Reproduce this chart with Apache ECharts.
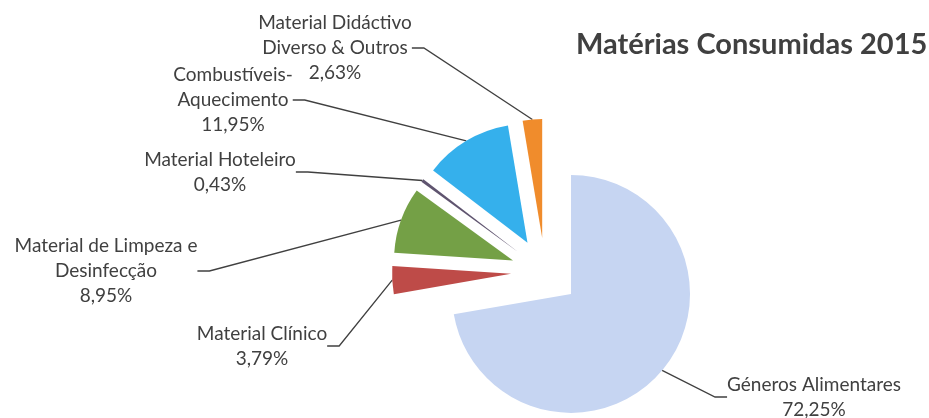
<!DOCTYPE html>
<html>
<head>
<meta charset="utf-8">
<script src="https://cdn.jsdelivr.net/npm/echarts@6/dist/echarts.min.js"></script>
<style>
  html, body { margin: 0; padding: 0; background: #ffffff; }
  #chart { width: 929px; height: 418px; }
</style>
</head>
<body>
<div id="chart"></div>
<script>
// Consumption shares for 2015, in percent (clockwise from 12 o'clock)
const categories = [
  'Géneros Alimentares',
  'Material Clínico',
  'Material de Limpeza e\nDesinfecção',
  'Material Hoteleiro',
  'Combustíveis-\nAquecimento',
  'Material Didáctivo\nDiverso & Outros'
];
const shares = [72.25, 3.79, 8.95, 0.43, 11.95, 2.63];
const sliceColors = ['#c6d5f2', '#be4b48', '#74a046', '#5f546f', '#35b0ec', '#f08c2c'];
// where each callout text block sits (centre of the block)
const labelSpots = [[814, 397], [262, 346], [106, 271], [220, 172], [233, 100], [335, 48]];

const PIE_CENTER = [545, 272];
const PIE_RADIUS = 119;
const EXPLODE = 34;   // every slice is pulled out by the same distance

const chart = echarts.init(document.getElementById('chart'), null, { renderer: 'canvas' });

const fmt = v => v.toFixed(2).replace('.', ',') + '%';
const total = shares.reduce((a, b) => a + b, 0);

// One pie layer per slice: all layers share the same angles, only one slice
// is painted in each, and that layer's centre is pushed out along the slice bisector.
let acc = 0;
const layers = shares.map((v, i) => {
  const mid = (acc + v / 2) / total * 2 * Math.PI;
  acc += v;
  const c = [PIE_CENTER[0] + EXPLODE * Math.sin(mid), PIE_CENTER[1] - EXPLODE * Math.cos(mid)];
  return {
    type: 'pie',
    center: c,
    radius: PIE_RADIUS,
    startAngle: 90,
    clockwise: true,
    silent: true,
    avoidLabelOverlap: false,
    minAngle: 0,
    label: {
      show: true,
      position: 'outside',
      fontFamily: 'Lato',
      fontSize: 19,
      lineHeight: 25,
      color: '#404040',
      align: 'center',
      formatter: p => p.name + '\n' + fmt(p.value)
    },
    labelLine: {
      show: true,
      length: 10,
      length2: 12,
      lineStyle: { color: '#404040', width: 1.3 }
    },
    labelLayout: p => (p.dataIndex === i ? {
      x: labelSpots[i][0],
      y: labelSpots[i][1],
      align: 'center',
      verticalAlign: 'middle'
    } : {}),
    data: categories.map((name, j) => (j === i ? {
      name: name,
      value: shares[j],
      itemStyle: { color: sliceColors[j], borderWidth: 0 }
    } : {
      name: name,
      value: shares[j],
      itemStyle: { color: 'rgba(0,0,0,0)', borderWidth: 0 },
      label: { show: false },
      labelLine: { show: false }
    }))
  };
});

chart.setOption({
  animation: false,
  backgroundColor: '#ffffff',
  title: {
    text: 'Matérias Consumidas 2015',
    left: 571,
    top: 25,
    textStyle: { fontFamily: 'Lato', fontWeight: 'bold', fontSize: 29, color: '#404040' }
  },
  series: layers
});
</script>
</body>
</html>
